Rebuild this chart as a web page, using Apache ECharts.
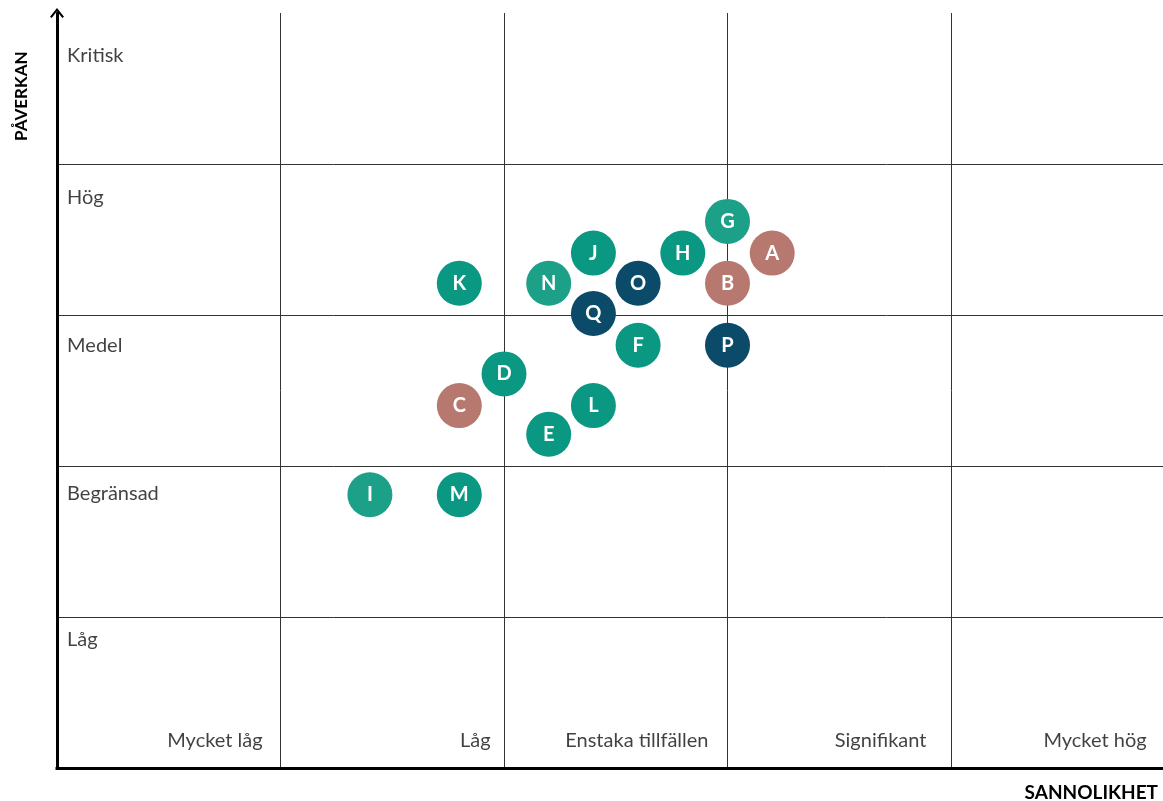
<!DOCTYPE html>
<html>
<head>
<meta charset="utf-8">
<script src="https://cdn.jsdelivr.net/npm/echarts@6/dist/echarts.min.js"></script>
<style>
  html, body { margin: 0; padding: 0; background: #fff; }
  #risk { width: 1163px; height: 801px; }
</style>
</head>
<body>
<div id="risk"></div>
<script>
// riskpunkter
var riskNames = ['G', 'A', 'H', 'J', 'B', 'O', 'N', 'K', 'Q', 'F', 'P', 'D', 'C', 'L', 'E', 'I', 'M'];
var riskX     = [3.0, 3.2, 2.8, 2.4, 3.0, 2.6, 2.2, 1.8, 2.4, 2.6, 3.0, 2.0, 1.8, 2.4, 2.2, 1.4, 1.8];
var riskY     = [3.62, 3.41, 3.41, 3.41, 3.21, 3.21, 3.21, 3.21, 3.01, 2.8, 2.8, 2.61, 2.4, 2.4, 2.21, 1.81, 1.81];
var riskGroup = ['ljus', 'rod', 'gron', 'gron', 'rod', 'bla', 'ljus', 'gron', 'bla', 'gron', 'bla', 'gron', 'rod', 'gron', 'gron', 'ljus', 'gron'];

// rad- och kolumnrubriker
var impactLabels = ['Kritisk', 'Hög', 'Medel', 'Begränsad', 'Låg'];
var impactY      = [4.72, 3.78, 2.8, 1.82, 0.85];
var probLabels   = ['Mycket låg', 'Låg', 'Enstaka tillfällen', 'Signifikant', 'Mycket hög'];
var probX        = [0.92, 1.94, 2.915, 3.89, 4.875];

var colors = { gron: '#0a9882', ljus: '#1ca088', rod: '#b77870', bla: '#0b4b69' };
var font = 'Lato, "Open Sans", sans-serif';

var dom = document.getElementById('risk');
var myChart = echarts.init(dom);

var points = riskNames.map(function (n, i) {
    return { name: n, value: [riskX[i], riskY[i]], itemStyle: { color: colors[riskGroup[i]], opacity: 1 } };
});
var rowText = impactLabels.map(function (n, i) {
    return { name: n, value: [0.045, impactY[i]] };
});
var colText = probLabels.map(function (n, i) {
    return { name: n, value: [probX[i], 0.18] };
});

var option = {
    animation: false,
    grid: { left: 57, top: 13, right: 0, bottom: 33 },
    xAxis: {
        // kolumnbredd ca 223.5 px, sista kolumnen klipps vid kanten
        type: 'value', min: 0, max: 4.9485, interval: 1,
        axisLine: { lineStyle: { color: '#000', width: 3, cap: 'square' } },
        axisTick: { show: false },
        axisLabel: { show: false },
        splitLine: { show: true, showMinLine: false, showMaxLine: false, lineStyle: { color: '#333', width: 1 } }
    },
    yAxis: {
        type: 'value', min: 0, max: 5, interval: 1, offset: 3,
        axisLine: {
            show: true,
            symbol: ['none', 'path://M0,8.6 L7,0 L14,8.6 L12.3,9.8 L7,3.2 L1.7,9.8 Z'],
            symbolSize: [14, 10],
            symbolOffset: [0, 0],
            lineStyle: { color: '#000', width: 3 }
        },
        axisTick: { show: false },
        axisLabel: { show: false },
        splitLine: { show: true, showMaxLine: false, showMinLine: false, lineStyle: { color: '#333', width: 1 } }
    },
    graphic: [
        {
            type: 'text', x: 13, y: 141, rotation: Math.PI / 2,
            style: { text: 'PÅVERKAN', font: 'bold 17px ' + font, fill: '#000', align: 'left', verticalAlign: 'top' }
        },
        {
            type: 'text', x: 1158, y: 793,
            style: { text: 'SANNOLIKHET', font: 'bold 19px ' + font, fill: '#000', align: 'right', verticalAlign: 'middle' }
        }
    ],
    series: [
        {
            type: 'scatter', silent: true, symbolSize: 0, data: rowText,
            label: { show: true, position: 'inside', formatter: '{b}', align: 'left', verticalAlign: 'middle',
                     color: '#111', fontSize: 20, fontFamily: font }
        },
        {
            type: 'scatter', silent: true, symbolSize: 0, data: colText,
            label: { show: true, position: 'inside', formatter: '{b}', align: 'right', verticalAlign: 'middle',
                     color: '#111', fontSize: 20, fontFamily: font }
        },
        {
            type: 'scatter', symbolSize: 45, data: points,
            label: { show: true, position: 'inside', formatter: '{b}', color: '#fff',
                     fontSize: 20, fontWeight: 'bold', fontFamily: font }
        }
    ]
};
myChart.setOption(option, true);
</script>
</body>
</html>
